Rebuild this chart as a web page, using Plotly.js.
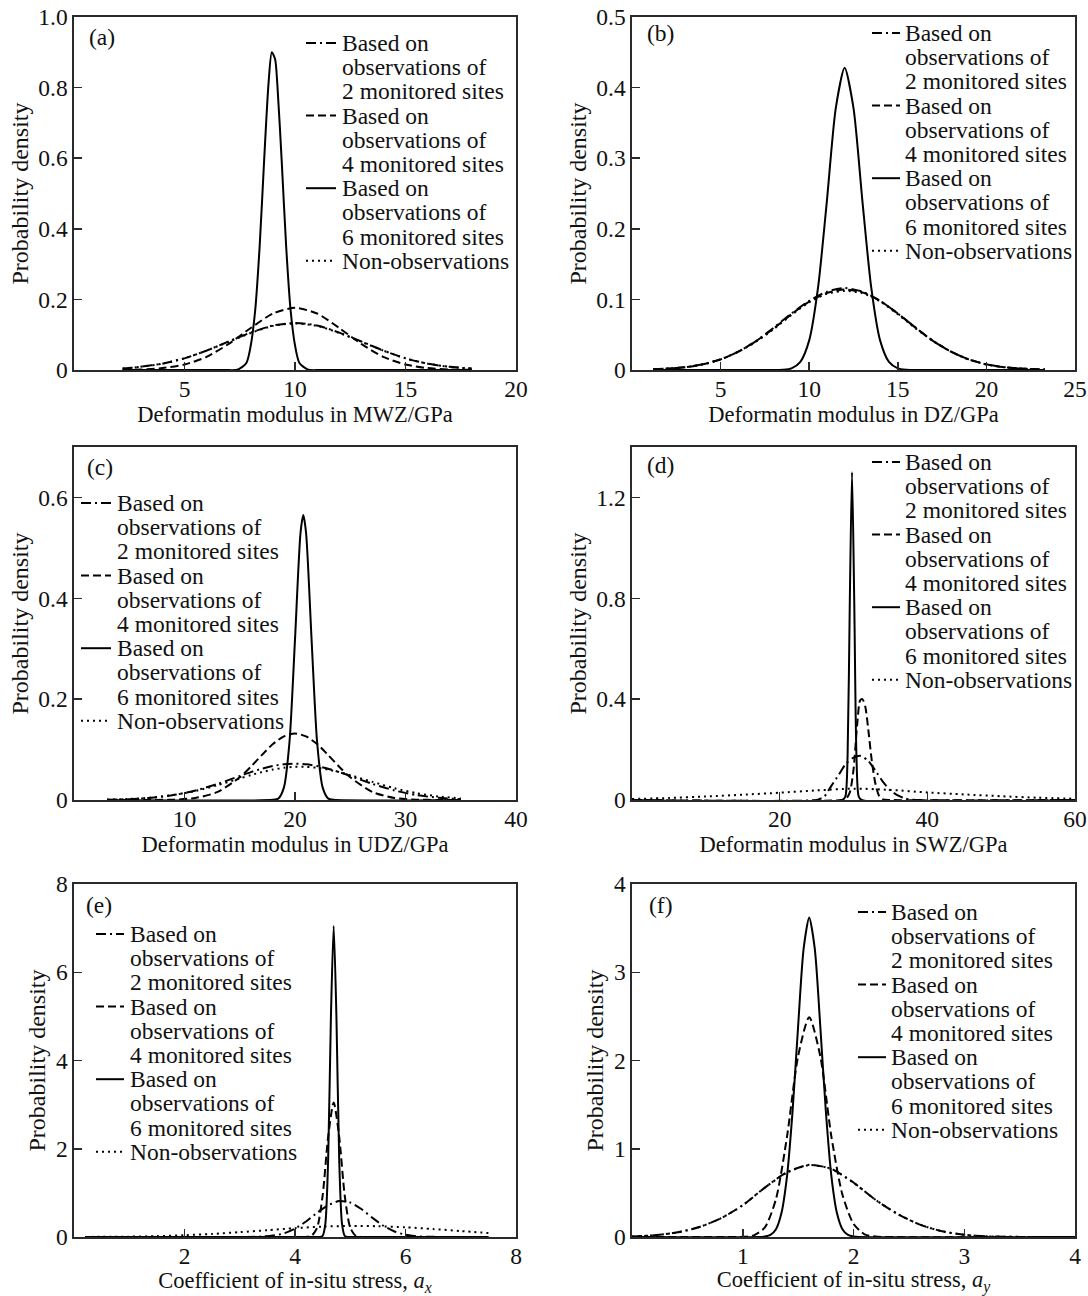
<!DOCTYPE html>
<html><head><meta charset="utf-8">
<script src="https://cdn.plot.ly/plotly-3.0.1.min.js"></script>
<style>html,body{margin:0;padding:0;background:#fff}#chart{width:1088px;height:1296px}</style>
</head><body><div id="chart"></div>
<script>
// ---------- DATA ----------
const legendLabels = ["Based on<br>observations of<br>2 monitored sites",
  "Based on<br>observations of<br>4 monitored sites",
  "Based on<br>observations of<br>6 monitored sites",
  "Non-observations"];
const panelLetters = ["(a)","(b)","(c)","(d)","(e)","(f)"];
const yTitle = "Probability density";
const xTitles = ["Deformatin modulus in MWZ/GPa","Deformatin modulus in DZ/GPa",
  "Deformatin modulus in UDZ/GPa","Deformatin modulus in SWZ/GPa",
  "Coefficient of in-situ stress, <i>a</i><sub><i>x</i></sub>",
  "Coefficient of in-situ stress, <i>a</i><sub><i>y</i></sub>"];

// (a) MWZ
const aXTicks=[5,10,15,20], aYTicks=[0,0.2,0.4,0.6,0.8,1.0], aYText=["0","0.2","0.4","0.6","0.8","1.0"];
const a2X=[2.2,3,4,5,6,7,8,9,10,11,12,13,14,15,16,17,18];
const a2Y=[0.004,0.009,0.018,0.033,0.055,0.081,0.106,0.126,0.133,0.126,0.106,0.081,0.055,0.033,0.018,0.009,0.004];
const a4X=[2.2,3,4,5,6,7,8,9,10,11,12,13,14,15,16,17,18];
const a4Y=[0.0005,0.0015,0.0054,0.0156,0.037,0.074,0.119,0.160,0.176,0.160,0.119,0.074,0.037,0.0156,0.0054,0.0015,0.0005];
const a6X=[2.2,6.8,7.4,7.8,8.0,8.2,8.4,8.6,8.8,8.95,9.1,9.2,9.4,9.6,9.8,10.0,10.2,10.6,11.2,18];
const a6Y=[0,0,0.001,0.02,0.07,0.17,0.35,0.59,0.81,0.90,0.88,0.81,0.59,0.35,0.17,0.07,0.02,0.001,0,0];
const anX=[2.2,3,4,5,6,7,8,9,10,11,12,13,14,15,16,17,18];
const anY=[0.004,0.009,0.018,0.033,0.055,0.080,0.105,0.125,0.132,0.125,0.105,0.080,0.055,0.033,0.018,0.009,0.004];

// (b) DZ
const bXTicks=[5,10,15,20,25], bYTicks=[0,0.1,0.2,0.3,0.4,0.5], bYText=["0","0.1","0.2","0.3","0.4","0.5"];
const bWX=[1.2,2,3,4,5,6,7,8,9,10,11,12,13,14,15,16,17,18,19,20,21,22,23.3];
const b2Y=[0.001,0.002,0.004,0.008,0.015,0.026,0.041,0.060,0.080,0.098,0.111,0.116,0.111,0.098,0.080,0.060,0.041,0.026,0.015,0.008,0.004,0.002,0.0006];
const b4Y=[0.001,0.002,0.004,0.008,0.015,0.026,0.041,0.059,0.079,0.097,0.109,0.114,0.110,0.098,0.080,0.060,0.041,0.026,0.015,0.008,0.004,0.002,0.0006];
const bnY=[0.001,0.002,0.004,0.008,0.015,0.026,0.040,0.058,0.078,0.096,0.108,0.112,0.109,0.097,0.079,0.059,0.041,0.026,0.015,0.008,0.004,0.002,0.0006];
const b6X=[1.2,8,8.5,9,9.5,10,10.5,11,11.5,12,12.5,13,13.5,14,14.5,15,15.5,16,23.3];
const b6Y=[0,0,0.0004,0.0024,0.0116,0.042,0.117,0.240,0.371,0.428,0.371,0.240,0.117,0.042,0.0116,0.0024,0.0004,0,0];

// (c) UDZ
const cXTicks=[10,20,30,40], cYTicks=[0,0.2,0.4,0.6], cYText=["0","0.2","0.4","0.6"];
const cWX=[3,5,7,9,11,13,15,16,17,18,19,20,21,22,23,24,25,27,29,31,33,35];
const c2Y=[0.0006,0.0017,0.0044,0.0097,0.0189,0.032,0.0476,0.0553,0.062,0.0674,0.0708,0.072,0.0708,0.0674,0.062,0.0553,0.0476,0.032,0.0189,0.0097,0.0044,0.0017];
const c4Y=[0,0,0.0001,0.0007,0.004,0.016,0.045,0.066,0.089,0.111,0.126,0.132,0.126,0.111,0.089,0.066,0.045,0.016,0.004,0.0007,0.0001,0];
const cnY=[0.0008,0.0021,0.0048,0.0099,0.018,0.0294,0.0427,0.0494,0.0553,0.0603,0.0639,0.0658,0.0658,0.0639,0.0603,0.0553,0.0494,0.036,0.0234,0.0135,0.007,0.0032];
const c6X=[3,18,18.5,19,19.5,20,20.5,20.75,21,21.5,22,22.5,23,23.5,35];
const c6Y=[0,0.0003,0.003,0.025,0.115,0.318,0.530,0.565,0.530,0.318,0.115,0.025,0.003,0.0003,0];

// (d) SWZ
const dXTicks=[20,40,60], dYTicks=[0,0.4,0.8,1.2], dYText=["0","0.4","0.8","1.2"];
const d2X=[0,25,25.5,26,27,28,29,30,31,32,33,34,35,36,37,38,60];
const d2Y=[0,0,0.005,0.012,0.056,0.10,0.145,0.168,0.175,0.155,0.115,0.072,0.038,0.018,0.006,0.001,0];
const d4X=[0,28.5,29.0,29.5,30.0,30.5,30.9,31.2,31.6,32.0,32.5,33.0,33.5,34.0,35,60];
const d4Y=[0,0,0.005,0.03,0.12,0.30,0.395,0.40,0.37,0.28,0.15,0.06,0.015,0.002,0,0];
const d6X=[0,28.5,28.9,29.2,29.5,29.8,30.1,30.4,30.7,31.1,60];
const d6Y=[0,0,0.0144,0.176,0.789,1.30,0.789,0.176,0.0144,0,0];
const dnX=[0,5,10,15,20,25,30,35,40,45,50,55,60];
const dnY=[0.004,0.008,0.014,0.021,0.029,0.038,0.045,0.040,0.030,0.022,0.015,0.009,0.005];

// (e) a_x
const eXTicks=[2,4,6,8], eYTicks=[0,2,4,6,8], eYText=["0","2","4","6","8"];
const e2X=[0.2,3.0,3.4,3.6,3.8,4.0,4.2,4.4,4.6,4.8,5.0,5.2,5.4,5.6,5.8,6.0,6.2,6.5,7.5];
const e2Y=[0,0.001,0.01,0.032,0.082,0.19,0.35,0.55,0.72,0.816,0.782,0.635,0.436,0.254,0.125,0.052,0.018,0.003,0];
const e4X=[0.2,4.1,4.2,4.3,4.4,4.5,4.6,4.7,4.8,4.9,5.0,5.1,5.2,5.3,7.5];
const e4Y=[0,0,0.002,0.027,0.21,0.935,2.27,3.05,2.27,0.935,0.21,0.027,0.002,0,0];
const e6X=[0.2,4.4,4.45,4.5,4.55,4.6,4.65,4.7,4.75,4.8,4.85,4.9,4.95,5.0,7.5];
const e6Y=[0,0,0.001,0.027,0.31,1.76,4.98,7.05,4.98,1.76,0.31,0.027,0.001,0,0];
const enX=[0.2,1,1.5,2,2.5,3,3.5,4,4.5,5,5.5,6,6.5,7,7.5];
const enY=[0.002,0.008,0.02,0.04,0.07,0.11,0.155,0.2,0.235,0.25,0.245,0.22,0.18,0.135,0.09];

// (f) a_y
const fXTicks=[1,2,3,4], fYTicks=[0,1,2,3,4], fYText=["0","1","2","3","4"];
const f2X=[0,0.2,0.4,0.6,0.8,1.0,1.2,1.4,1.6,1.8,2.0,2.2,2.4,2.6,2.8,3.0,3.2,3.5,4];
const f2Y=[0.005,0.02,0.05,0.11,0.21,0.36,0.56,0.735,0.818,0.772,0.617,0.42,0.26,0.14,0.065,0.025,0.008,0.001,0];
const f4X=[0,0.9,1.0,1.1,1.2,1.3,1.4,1.5,1.6,1.7,1.8,1.9,2.0,2.1,2.2,2.3,4];
const f4Y=[0,0,0.002,0.019,0.109,0.43,1.14,2.05,2.49,2.05,1.14,0.48,0.15,0.03,0.005,0,0];
const f6X=[0,1.15,1.2,1.25,1.3,1.35,1.4,1.45,1.5,1.55,1.6,1.65,1.7,1.75,1.8,1.85,1.9,1.95,2.0,2.05,4];
const f6Y=[0,0,0.005,0.023,0.088,0.274,0.693,1.43,2.39,3.27,3.62,3.27,2.39,1.43,0.693,0.274,0.088,0.023,0.005,0,0];
const fnY=[0.005,0.02,0.05,0.11,0.21,0.36,0.56,0.73,0.815,0.77,0.615,0.42,0.26,0.14,0.065,0.025,0.008,0.001,0];

// ---------- LAYOUT CONFIG ----------
const W=1088, H=1296;
const FONT='"Liberation Serif", "Times New Roman", serif';
const INK='#111', FRAME='#2a2a2a';
const TICKSIZE=23.5, LEGSIZE=23.5, XTSIZE=22.5, YTSIZE=24;
const lineStyles=[{dash:'10px,4px,2px,4px'},{dash:'8px,4px'},{dash:'solid'},{dash:'2px,4px'}];

const panels=[
 {box:[74,516,17,370], xr:[0,20], xt:aXTicks, yr:[0,1.0], yt:aYTicks, ytt:aYText,
  series:[[a2X,a2Y],[a4X,a4Y],[a6X,a6Y],[anX,anY]], leg:{sx0:306,sx1:336,tx:341,y0:43,dy:24.2}, lab:[87,37]},
 {box:[632,1075,17,370], xr:[0,25], xt:bXTicks, yr:[0,0.5], yt:bYTicks, ytt:bYText,
  series:[[bWX,b2Y],[bWX,b4Y],[b6X,b6Y],[bWX,bnY]], leg:{sx0:872,sx1:900,tx:904,y0:33,dy:24.2}, lab:[645,33]},
 {box:[74,516,447,800], xr:[0,40], xt:cXTicks, yr:[0,0.7], yt:cYTicks, ytt:cYText,
  series:[[cWX,c2Y],[cWX,c4Y],[c6X,c6Y],[cWX,cnY]], leg:{sx0:81,sx1:111,tx:116,y0:503,dy:24.2}, lab:[85,467]},
 {box:[632,1075,447,800], xr:[0,60], xt:dXTicks, yr:[0,1.4], yt:dYTicks, ytt:dYText,
  series:[[d2X,d2Y],[d4X,d4Y],[d6X,d6Y],[dnX,dnY]], leg:{sx0:872,sx1:900,tx:904,y0:462,dy:24.2}, lab:[645,465]},
 {box:[74,516,884,1237], xr:[0,8], xt:eXTicks, yr:[0,8], yt:eYTicks, ytt:eYText,
  series:[[e2X,e2Y],[e4X,e4Y],[e6X,e6Y],[enX,enY]], leg:{sx0:96,sx1:124,tx:129,y0:934,dy:24.2}, lab:[84,905]},
 {box:[632,1075,884,1237], xr:[0,4], xt:fXTicks, yr:[0,4], yt:fYTicks, ytt:fYText,
  series:[[f2X,f2Y],[f4X,f4Y],[f6X,f6Y],[f2X,fnY]], leg:{sx0:858,sx1:886,tx:890,y0:912,dy:24.2}, lab:[647,905]}
];

const traces=[], annotations=[], shapes=[];
const layout={width:W,height:H,margin:{l:0,r:0,t:0,b:0},paper_bgcolor:'#fff',plot_bgcolor:'#fff',
  font:{family:FONT,color:INK,size:22},showlegend:false};

panels.forEach((p,i)=>{
  const s = i===0?'':String(i+1);
  const [L,R,T,B]=p.box;
  const common={showline:true,mirror:true,linecolor:FRAME,linewidth:1.6,ticks:'inside',ticklen:8,
    tickwidth:1.5,tickcolor:FRAME,showgrid:false,zeroline:false,tickmode:'array',
    tickfont:{family:FONT,size:TICKSIZE,color:INK},fixedrange:true};
  layout['xaxis'+s]=Object.assign({},common,{domain:[L/W,R/W],range:p.xr,anchor:'y'+s,
    tickvals:p.xt,ticktext:p.xt.map(String),ticklabelstandoff:-3,
    title:{text:xTitles[i],font:{family:FONT,size:XTSIZE,color:INK},standoff:2}});
  layout['yaxis'+s]=Object.assign({},common,{domain:[1-B/H,1-T/H],range:p.yr,anchor:'x'+s,
    tickvals:p.yt,ticktext:p.ytt,ticklabelstandoff:0,
    title:{text:yTitle,font:{family:FONT,size:YTSIZE,color:INK},standoff:3}});
  // draw order: dotted, dash-dot, dashed, solid
  [3,0,1,2].forEach(k=>{
    const [xs,ys]=p.series[k];
    traces.push({x:xs,y:ys,type:'scatter',mode:'lines',xaxis:'x'+s,yaxis:'y'+s,
      line:{color:'#000',width:2,dash:lineStyles[k].dash,shape:'spline',smoothing:0.7},
      hoverinfo:'skip',showlegend:false,name:legendLabels[k].replace(/<br>/g,' ')});
  });
  // panel letter
  annotations.push({xref:'paper',yref:'paper',x:p.lab[0]/W,y:1-p.lab[1]/H,xanchor:'left',yanchor:'middle',
    text:panelLetters[i],showarrow:false,font:{family:FONT,size:LEGSIZE,color:INK}});
  // legend (drawn as sample lines + text lines)
  let line=0;
  legendLabels.forEach((lab,k)=>{
    const yc=p.leg.y0+line*p.leg.dy;
    shapes.push({type:'line',xref:'paper',yref:'paper',x0:p.leg.sx0/W,x1:p.leg.sx1/W,y0:1-yc/H,y1:1-yc/H,
      line:{color:'#000',width:2,dash:lineStyles[k].dash}});
    lab.split('<br>').forEach(t=>{
      const yy=p.leg.y0+line*p.leg.dy;
      annotations.push({xref:'paper',yref:'paper',x:p.leg.tx/W,y:1-yy/H,xanchor:'left',yanchor:'middle',
        text:t,showarrow:false,font:{family:FONT,size:LEGSIZE,color:INK},borderpad:0});
      line++;
    });
  });
});
layout.annotations=annotations;
layout.shapes=shapes;
Plotly.newPlot('chart',traces,layout,{staticPlot:true,displayModeBar:false});
</script></body></html>
